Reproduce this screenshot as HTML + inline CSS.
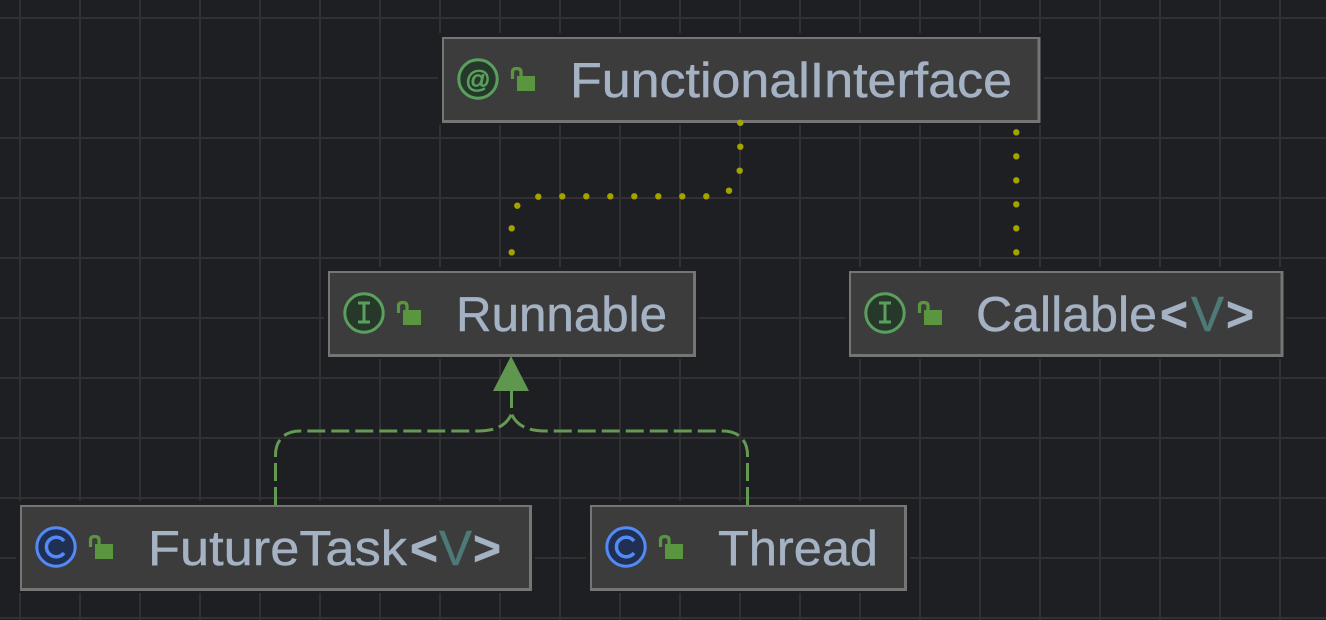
<!DOCTYPE html>
<html>
<head>
<meta charset="utf-8">
<style>
html,body{margin:0;padding:0;background:#1e1f22;width:1326px;height:620px;overflow:hidden}
svg{display:block}
text{font-family:"Liberation Sans",sans-serif;font-size:49px;fill:#a4b2c3;stroke:#a4b2c3;stroke-width:.45}
.outer{fill:#757575}
.inner{fill:#3c3c3c}
.halo{fill:#1e1f22}
.grid line{stroke:#313133;stroke-width:2}
.dot{fill:#a3a300}
.ic{fill:#253829;stroke:#5b9f5f;stroke-width:3}
.cc{fill:#1f3052;stroke:#548af7;stroke-width:3}
.bd{fill:#5a963f}
.sh{fill:none;stroke:#5a963f;stroke-width:3.2}
.dash{fill:none;stroke:#649a52;stroke-width:3;stroke-dasharray:18 6}
.b{font-weight:bold}
.v{fill:#4d7977;stroke:#4d7977}
</style>
</head>
<body>
<svg width="1326" height="620" viewBox="0 0 1326 620" xmlns="http://www.w3.org/2000/svg">
<rect width="1326" height="620" fill="#1e1f22"/>
<g class="grid">
<line x1="20" y1="0" x2="20" y2="620"/><line x1="80" y1="0" x2="80" y2="620"/><line x1="140" y1="0" x2="140" y2="620"/><line x1="200" y1="0" x2="200" y2="620"/><line x1="260" y1="0" x2="260" y2="620"/><line x1="320" y1="0" x2="320" y2="620"/><line x1="380" y1="0" x2="380" y2="620"/><line x1="440" y1="0" x2="440" y2="620"/><line x1="500" y1="0" x2="500" y2="620"/><line x1="560" y1="0" x2="560" y2="620"/><line x1="620" y1="0" x2="620" y2="620"/><line x1="680" y1="0" x2="680" y2="620"/><line x1="740" y1="0" x2="740" y2="620"/><line x1="800" y1="0" x2="800" y2="620"/><line x1="860" y1="0" x2="860" y2="620"/><line x1="920" y1="0" x2="920" y2="620"/><line x1="980" y1="0" x2="980" y2="620"/><line x1="1040" y1="0" x2="1040" y2="620"/><line x1="1100" y1="0" x2="1100" y2="620"/><line x1="1160" y1="0" x2="1160" y2="620"/><line x1="1220" y1="0" x2="1220" y2="620"/><line x1="1280" y1="0" x2="1280" y2="620"/>
<line x1="0" y1="18" x2="1326" y2="18"/><line x1="0" y1="78" x2="1326" y2="78"/><line x1="0" y1="138" x2="1326" y2="138"/><line x1="0" y1="198" x2="1326" y2="198"/><line x1="0" y1="258" x2="1326" y2="258"/><line x1="0" y1="318" x2="1326" y2="318"/><line x1="0" y1="378" x2="1326" y2="378"/><line x1="0" y1="438" x2="1326" y2="438"/><line x1="0" y1="498" x2="1326" y2="498"/><line x1="0" y1="558" x2="1326" y2="558"/><line x1="0" y1="618" x2="1326" y2="618"/>
</g>

<!-- halos -->
<rect class="halo" x="438" y="33" width="606" height="92"/>
<rect class="halo" x="324" y="267" width="375" height="92"/>
<rect class="halo" x="845" y="267" width="441" height="92"/>
<rect class="halo" x="16" y="501" width="519" height="92"/>
<rect class="halo" x="586" y="501" width="324" height="92"/>

<!-- dotted connectors -->
<g class="dot">
<circle cx="740.3" cy="122.7" r="3.2"/><circle cx="740.3" cy="146.7" r="3.2"/><circle cx="739.7" cy="170.7" r="3.2"/><circle cx="729" cy="190.7" r="3.2"/><circle cx="706.3" cy="196.3" r="3.2"/><circle cx="682.3" cy="196.3" r="3.2"/><circle cx="658.3" cy="196.3" r="3.2"/><circle cx="634.3" cy="196.3" r="3.2"/><circle cx="610.3" cy="196.3" r="3.2"/><circle cx="586.3" cy="196.3" r="3.2"/><circle cx="562.3" cy="196.3" r="3.2"/><circle cx="538.3" cy="196.7" r="3.2"/><circle cx="517.3" cy="205.7" r="3.2"/><circle cx="511.7" cy="228.3" r="3.2"/><circle cx="511.7" cy="252.3" r="3.2"/>
<circle cx="1016.3" cy="132.3" r="3.2"/><circle cx="1016.3" cy="156.3" r="3.2"/><circle cx="1016.3" cy="180.3" r="3.2"/><circle cx="1016.3" cy="204.3" r="3.2"/><circle cx="1016.3" cy="228.3" r="3.2"/><circle cx="1016.3" cy="252.3" r="3.2"/>
</g>

<!-- nodes -->
<rect class="outer" x="442" y="37" width="598.5" height="86"/><rect class="inner" x="444" y="39" width="593.5" height="81"/>
<circle class="dot" cx="740.3" cy="122.7" r="3.2"/>
<rect class="outer" x="328" y="271" width="368" height="86"/><rect class="inner" x="330" y="273" width="363" height="81"/>
<rect class="outer" x="849" y="271" width="434.5" height="86"/><rect class="inner" x="851" y="273" width="429.5" height="81"/>
<rect class="outer" x="20" y="505" width="512" height="86"/><rect class="inner" x="22" y="507" width="507" height="81"/>
<rect class="outer" x="590" y="505" width="317" height="86"/><rect class="inner" x="592" y="507" width="312" height="81"/>

<!-- dashed connectors -->
<path class="dash" d="M275.5,505 L275.5,455 C275.5,441 284,431 300,431 L478,431 C495,431 506,426 511.5,414"/>
<path class="dash" d="M747.5,505 L747.5,455 C747.5,441 739,431 723,431 L545,431 C528,431 517,426 511.5,414"/>
<line x1="511.5" y1="390" x2="511.5" y2="408" stroke="#649a52" stroke-width="3"/>
<polygon points="511,356 529,391 493,391" fill="#5f9750"/>

<!-- FunctionalInterface -->
<circle class="ic" cx="478" cy="79" r="19.2"/>
<text x="478" y="88" text-anchor="middle" style="font-size:25px;fill:#5b9f5f;stroke:#5b9f5f;stroke-width:.8">@</text>
<path class="sh" d="M512.5,79 V72 Q512.5,68.5 516.7,68.5 Q521,68.5 521,72 V76"/>
<rect class="bd" x="517" y="76" width="18" height="15"/>
<text x="570" y="97" textLength="442" lengthAdjust="spacingAndGlyphs">FunctionalInterface</text>

<!-- Runnable -->
<circle class="ic" cx="364" cy="313" r="19.2"/>
<path d="M358,303 H370 M364,303 V322 M358,322 H370" fill="none" stroke="#5b9f5f" stroke-width="3"/>
<path class="sh" d="M398.5,313 V306 Q398.5,302.5 402.7,302.5 Q407,302.5 407,306 V310"/>
<rect class="bd" x="403" y="310" width="18" height="15"/>
<text x="456" y="331" textLength="211" lengthAdjust="spacingAndGlyphs">Runnable</text>

<!-- Callable -->
<circle class="ic" cx="885" cy="313" r="19.2"/>
<path d="M879,303 H891 M885,303 V322 M879,322 H891" fill="none" stroke="#5b9f5f" stroke-width="3"/>
<path class="sh" d="M919.5,313 V306 Q919.5,302.5 923.7,302.5 Q928,302.5 928,306 V310"/>
<rect class="bd" x="924" y="310" width="18" height="15"/>
<text x="976" y="331" textLength="181" lengthAdjust="spacingAndGlyphs">Callable</text>
<text class="b" x="1160" y="331" textLength="28" lengthAdjust="spacingAndGlyphs">&lt;</text>
<text class="v" x="1191" y="331" textLength="33" lengthAdjust="spacingAndGlyphs">V</text>
<text class="b" x="1226" y="331" textLength="28" lengthAdjust="spacingAndGlyphs">&gt;</text>

<!-- FutureTask -->
<circle class="cc" cx="56" cy="547" r="19.2"/>
<path d="M64,541 A9.8,9.8 0 1 0 64,553" fill="none" stroke="#548af7" stroke-width="3.5"/>
<path class="sh" d="M90.5,547 V540 Q90.5,536.5 94.7,536.5 Q99,536.5 99,540 V544"/>
<rect class="bd" x="95" y="544" width="18" height="15"/>
<text x="148" y="565" textLength="259" lengthAdjust="spacingAndGlyphs">FutureTask</text>
<text class="b" x="410" y="565" textLength="28" lengthAdjust="spacingAndGlyphs">&lt;</text>
<text class="v" x="439" y="565" textLength="33" lengthAdjust="spacingAndGlyphs">V</text>
<text class="b" x="473" y="565" textLength="28" lengthAdjust="spacingAndGlyphs">&gt;</text>

<!-- Thread -->
<circle class="cc" cx="626" cy="547" r="19.2"/>
<path d="M634,541 A9.8,9.8 0 1 0 634,553" fill="none" stroke="#548af7" stroke-width="3.5"/>
<path class="sh" d="M660.5,547 V540 Q660.5,536.5 664.7,536.5 Q669,536.5 669,540 V544"/>
<rect class="bd" x="665" y="544" width="18" height="15"/>
<text x="718" y="565" textLength="160" lengthAdjust="spacingAndGlyphs">Thread</text>
</svg>
</body>
</html>
